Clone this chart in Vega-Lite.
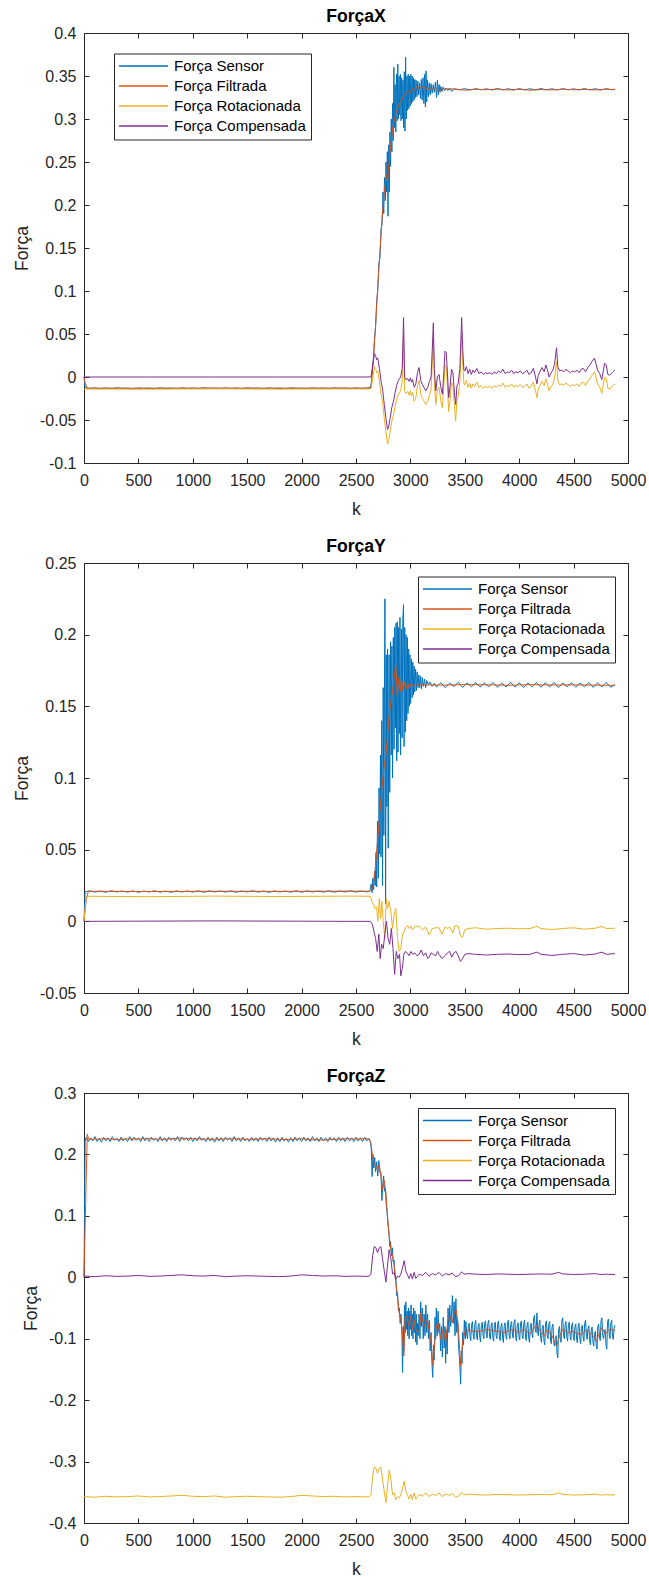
{
  "$schema": "https://vega.github.io/schema/vega-lite/v6.json",
  "background": "white",
  "padding": {"left": 13, "top": 7, "right": 10, "bottom": 4},
  "config": {
    "font": "Liberation Sans",
    "locale": {"number": {"decimal": ".", "thousands": ",", "grouping": [3], "currency": ["$", ""], "minus": "-"}},
    "view": {"stroke": "#262626", "strokeWidth": 1},
    "axis": {"domain": false, "grid": false, "ticks": true, "tickSize": -5, "tickWidth": 1, "tickColor": "#262626", "labelFont": "Liberation Sans", "labelFontSize": 16, "labelColor": "#262626", "labelOverlap": false, "labelFlush": false, "titleFont": "Liberation Sans", "titleFontSize": 17.6, "titleFontWeight": "normal", "titleColor": "#262626"},
    "title": {"font": "Liberation Sans", "fontSize": 17.6, "fontWeight": "bold", "color": "#000000"},
    "legend": {"symbolType": "M-12.25,0H12.25", "symbolSize": 16, "symbolStrokeWidth": 1.5, "symbolOffset": 17, "labelOffset": 23, "labelFont": "Liberation Sans", "labelFontSize": 15, "labelColor": "#000000", "padding": 5, "rowPadding": 4, "strokeColor": "#262626", "fillColor": "white", "labelLimit": 200}
  },
  "datasets": {
    "fx": [
      {"k":0,"S":0,"F":0,"R":-0.014,"C":0},
      {"k":10,"S":-0.0125},{"k":50,"S":-0.0132},{"k":100,"S":-0.0127},{"k":150,"S":-0.0134},{"k":200,"S":-0.0128},{"k":250,"S":-0.0133},{"k":300,"S":-0.0126},{"k":350,"S":-0.0131},{"k":400,"S":-0.0129},{"k":450,"S":-0.0135},{"k":500,"S":-0.0127},{"k":550,"S":-0.0132},{"k":600,"S":-0.0128},{"k":650,"S":-0.0134},{"k":700,"S":-0.0126},{"k":750,"S":-0.0131},{"k":800,"S":-0.0129},{"k":850,"S":-0.0133},{"k":900,"S":-0.0127},{"k":950,"S":-0.0132},{"k":1000,"S":-0.0128},{"k":1050,"S":-0.0134},{"k":1100,"S":-0.0126},{"k":1150,"S":-0.0131},{"k":1200,"S":-0.0129},{"k":1250,"S":-0.0133},{"k":1300,"S":-0.0127},{"k":1350,"S":-0.0132},{"k":1400,"S":-0.0128},{"k":1450,"S":-0.0135},{"k":1500,"S":-0.0126},{"k":1550,"S":-0.0131},{"k":1600,"S":-0.0129},{"k":1650,"S":-0.0133},{"k":1700,"S":-0.0127},{"k":1750,"S":-0.0132},{"k":1800,"S":-0.0128},{"k":1850,"S":-0.0134},{"k":1900,"S":-0.0126},{"k":1950,"S":-0.0131},{"k":2000,"S":-0.0129},{"k":2050,"S":-0.0133},{"k":2100,"S":-0.0127},{"k":2150,"S":-0.0132},{"k":2200,"S":-0.0128},{"k":2250,"S":-0.0134},{"k":2300,"S":-0.0126},{"k":2350,"S":-0.0131},{"k":2400,"S":-0.0129},{"k":2450,"S":-0.0133},{"k":2500,"S":-0.0127},{"k":2550,"S":-0.0132},{"k":2600,"S":-0.0128},
      {"k":2630,"S":-0.012},{"k":2640,"S":-0.008},{"k":2650,"S":0.008},{"k":2660,"S":0.022},{"k":2670,"S":0.045},{"k":2680,"S":0.058},{"k":2690,"S":0.088},{"k":2700,"S":0.1},{"k":2710,"S":0.132},{"k":2720,"S":0.138},{"k":2730,"S":0.172},{"k":2740,"S":0.178},{"k":2748,"S":0.215},{"k":2755,"S":0.19},{"k":2762,"S":0.232},{"k":2770,"S":0.205},{"k":2776,"S":0.25},{"k":2782,"S":0.215},{"k":2788,"S":0.262},{"k":2794,"S":0.187},{"k":2800,"S":0.27},{"k":2806,"S":0.215},{"k":2812,"S":0.285},{"k":2818,"S":0.245},{"k":2824,"S":0.3},{"k":2830,"S":0.262},{"k":2836,"S":0.318},{"k":2842,"S":0.275},{"k":2848,"S":0.36},{"k":2854,"S":0.29},{"k":2860,"S":0.34},{"k":2866,"S":0.285},{"k":2872,"S":0.352},{"k":2878,"S":0.298},{"k":2884,"S":0.364},{"k":2890,"S":0.3},{"k":2896,"S":0.35},{"k":2902,"S":0.305},{"k":2908,"S":0.352},{"k":2914,"S":0.298},{"k":2920,"S":0.348},{"k":2926,"S":0.3},{"k":2932,"S":0.345},{"k":2938,"S":0.29},{"k":2944,"S":0.355},{"k":2950,"S":0.286},{"k":2956,"S":0.372},{"k":2962,"S":0.3},{"k":2968,"S":0.35},{"k":2974,"S":0.31},{"k":2980,"S":0.352},{"k":2986,"S":0.312},{"k":2992,"S":0.35},{"k":2998,"S":0.315},{"k":3004,"S":0.352},{"k":3010,"S":0.318},{"k":3016,"S":0.35},{"k":3022,"S":0.32},{"k":3028,"S":0.348},{"k":3034,"S":0.322},{"k":3040,"S":0.346},{"k":3046,"S":0.325},{"k":3052,"S":0.345},{"k":3060,"S":0.326},{"k":3068,"S":0.344},{"k":3076,"S":0.328},{"k":3084,"S":0.342},{"k":3092,"S":0.324},{"k":3100,"S":0.346},{"k":3108,"S":0.322},{"k":3116,"S":0.348},{"k":3124,"S":0.318},{"k":3132,"S":0.352},{"k":3138,"S":0.314},{"k":3144,"S":0.356},{"k":3150,"S":0.32},{"k":3158,"S":0.345},{"k":3166,"S":0.326},{"k":3174,"S":0.342},{"k":3182,"S":0.328},{"k":3190,"S":0.341},{"k":3200,"S":0.33},{"k":3210,"S":0.34},{"k":3220,"S":0.331},{"k":3230,"S":0.343},{"k":3240,"S":0.325},{"k":3248,"S":0.345},{"k":3256,"S":0.328},{"k":3264,"S":0.34},{"k":3272,"S":0.331},{"k":3280,"S":0.338},{"k":3290,"S":0.332},{"k":3300,"S":0.337},{"k":3315,"S":0.333},{"k":3330,"S":0.336},{"k":3345,"S":0.333},{"k":3360,"S":0.336},{"k":3380,"S":0.332},{"k":3400,"S":0.335},
      {"k":3450,"S":0.334},{"k":3500,"S":0.3352},{"k":3550,"S":0.3338},{"k":3600,"S":0.3353},{"k":3650,"S":0.334},{"k":3700,"S":0.3351},{"k":3750,"S":0.3337},{"k":3800,"S":0.3354},{"k":3850,"S":0.3339},{"k":3900,"S":0.3352},{"k":3950,"S":0.3336},{"k":4000,"S":0.3353},{"k":4050,"S":0.334},{"k":4100,"S":0.3351},{"k":4150,"S":0.3338},{"k":4200,"S":0.3354},{"k":4250,"S":0.3339},{"k":4300,"S":0.3352},{"k":4350,"S":0.3337},{"k":4400,"S":0.3353},{"k":4450,"S":0.334},{"k":4500,"S":0.3351},{"k":4550,"S":0.3338},{"k":4600,"S":0.3354},{"k":4650,"S":0.3339},{"k":4700,"S":0.3352},{"k":4750,"S":0.3337},{"k":4800,"S":0.3353},{"k":4850,"S":0.334},{"k":4880,"S":0.3346},
      {"k":10,"F":-0.007},{"k":30,"F":-0.013},{"k":600,"F":-0.0131},{"k":1200,"F":-0.0129},{"k":1800,"F":-0.0131},{"k":2400,"F":-0.0129},{"k":2630,"F":-0.013},
      {"k":2640,"F":-0.01},{"k":2660,"F":0.02},{"k":2680,"F":0.06},{"k":2700,"F":0.105},{"k":2720,"F":0.145},{"k":2740,"F":0.185},{"k":2760,"F":0.215},{"k":2780,"F":0.235},{"k":2790,"F":0.228},{"k":2800,"F":0.245},{"k":2820,"F":0.27},{"k":2840,"F":0.292},{"k":2860,"F":0.303},{"k":2880,"F":0.312},{"k":2900,"F":0.318},{"k":2920,"F":0.322},{"k":2940,"F":0.327},{"k":2960,"F":0.33},{"k":2980,"F":0.333},{"k":3000,"F":0.33},{"k":3020,"F":0.336},{"k":3040,"F":0.333},{"k":3060,"F":0.338},{"k":3080,"F":0.335},{"k":3100,"F":0.337},{"k":3140,"F":0.336},{"k":3180,"F":0.334},{"k":3220,"F":0.336},{"k":3260,"F":0.332},{"k":3300,"F":0.335},
      {"k":3400,"F":0.335},{"k":3500,"F":0.3335},{"k":3600,"F":0.3345},{"k":3700,"F":0.334},{"k":3800,"F":0.3348},{"k":3900,"F":0.3338},{"k":4000,"F":0.3345},{"k":4100,"F":0.3335},{"k":4200,"F":0.3342},{"k":4300,"F":0.3338},{"k":4400,"F":0.3346},{"k":4500,"F":0.334},{"k":4600,"F":0.3344},{"k":4700,"F":0.3338},{"k":4800,"F":0.3345},{"k":4880,"F":0.3342},
      {"k":10,"R":-0.014,"C":0},{"k":600,"R":-0.0142,"C":0},{"k":1200,"R":-0.0138,"C":0},{"k":1800,"R":-0.0141,"C":0},{"k":2400,"R":-0.0139,"C":0},
      {"k":2630,"R":-0.014,"C":0},{"k":2640,"R":-0.013,"C":0.002},{"k":2655,"R":0,"C":0.015},{"k":2670,"R":0.012,"C":0.027},{"k":2680,"R":0.01,"C":0.025},{"k":2690,"R":0.005,"C":0.02},{"k":2700,"R":0.007,"C":0.022},{"k":2715,"R":-0.005,"C":0.01},{"k":2730,"R":-0.02,"C":-0.005},{"k":2745,"R":-0.03,"C":-0.015},{"k":2760,"R":-0.048,"C":-0.032},{"k":2775,"R":-0.064,"C":-0.048},{"k":2790,"R":-0.078,"C":-0.061},{"k":2800,"R":-0.074,"C":-0.058},{"k":2815,"R":-0.063,"C":-0.047},{"k":2830,"R":-0.051,"C":-0.035},{"k":2845,"R":-0.044,"C":-0.028},{"k":2860,"R":-0.034,"C":-0.018},{"k":2875,"R":-0.025,"C":-0.009},{"k":2890,"R":-0.02,"C":-0.004},{"k":2910,"R":-0.016,"C":0},{"k":2925,"R":-0.004,"C":0.01},{"k":2937,"R":0.05,"C":0.069},{"k":2947,"R":-0.016,"C":0},{"k":2958,"R":-0.019,"C":-0.003},{"k":2975,"R":-0.017,"C":-0.002},{"k":2988,"R":-0.021,"C":-0.005},{"k":3000,"R":-0.016,"C":-0.001},{"k":3010,"R":-0.022,"C":-0.006},{"k":3020,"R":-0.018,"C":-0.003},{"k":3035,"R":-0.028,"C":-0.012},{"k":3050,"R":-0.024,"C":-0.008},{"k":3065,"R":-0.01,"C":0.005},{"k":3080,"R":-0.004,"C":0.011},{"k":3095,"R":-0.02,"C":-0.004},{"k":3111,"R":-0.025,"C":-0.009},{"k":3125,"R":-0.028,"C":-0.012},{"k":3141,"R":-0.032,"C":-0.016},{"k":3160,"R":-0.028,"C":-0.012},{"k":3175,"R":-0.021,"C":-0.005},{"k":3190,"R":-0.015,"C":0},{"k":3202,"R":0.018,"C":0.035},{"k":3211,"R":0.045,"C":0.063},{"k":3220,"R":-0.006,"C":0.01},{"k":3233,"R":-0.032,"C":-0.016},{"k":3248,"R":-0.015,"C":0},{"k":3263,"R":-0.012,"C":0.003},{"k":3280,"R":-0.028,"C":-0.012},{"k":3294,"R":-0.036,"C":-0.02},{"k":3305,"R":-0.015,"C":0},{"k":3318,"R":0.014,"C":0.03},{"k":3330,"R":0.012,"C":0.028},{"k":3340,"R":-0.01,"C":0.005},{"k":3352,"R":-0.04,"C":-0.024},{"k":3365,"R":-0.026,"C":-0.01},{"k":3378,"R":-0.006,"C":0.009},{"k":3391,"R":-0.01,"C":0.005},{"k":3405,"R":-0.034,"C":-0.018},{"k":3416,"R":-0.051,"C":-0.032},{"k":3428,"R":-0.026,"C":-0.01},{"k":3440,"R":-0.022,"C":-0.007},{"k":3455,"R":-0.005,"C":0.01},{"k":3471,"R":0.05,"C":0.069},{"k":3482,"R":0.014,"C":0.03},{"k":3492,"R":-0.008,"C":0.008},{"k":3501,"R":-0.009,"C":0.007},{"k":3515,"R":-0.004,"C":0.012},{"k":3530,"R":-0.012,"C":0.004},{"k":3545,"R":-0.007,"C":0.009},{"k":3560,"R":-0.013,"C":0.003},{"k":3575,"R":-0.008,"C":0.008},{"k":3590,"R":-0.011,"C":0.005},{"k":3610,"R":-0.006,"C":0.01},{"k":3630,"R":-0.012,"C":0.004},{"k":3650,"R":-0.01,"C":0.006},{"k":3670,"R":-0.013,"C":0.003},{"k":3690,"R":-0.011,"C":0.005},{"k":3710,"R":-0.012,"C":0.004},{"k":3730,"R":-0.011,"C":0.005},{"k":3750,"R":-0.013,"C":0.003},{"k":3770,"R":-0.01,"C":0.006},{"k":3790,"R":-0.012,"C":0.004},{"k":3810,"R":-0.009,"C":0.007},{"k":3830,"R":-0.011,"C":0.005},{"k":3850,"R":-0.007,"C":0.009},{"k":3870,"R":-0.012,"C":0.004},{"k":3890,"R":-0.01,"C":0.006},{"k":3910,"R":-0.011,"C":0.005},{"k":3930,"R":-0.008,"C":0.008},{"k":3950,"R":-0.012,"C":0.004},{"k":3970,"R":-0.01,"C":0.006},{"k":3990,"R":-0.011,"C":0.005},{"k":4010,"R":-0.009,"C":0.007},{"k":4030,"R":-0.012,"C":0.004},{"k":4050,"R":-0.011,"C":0.005},{"k":4070,"R":-0.008,"C":0.008},{"k":4090,"R":-0.013,"C":0.003},{"k":4110,"R":-0.011,"C":0.005},{"k":4130,"R":-0.006,"C":0.01},{"k":4150,"R":-0.016,"C":0},{"k":4163,"R":-0.024,"C":-0.008},{"k":4175,"R":-0.014,"C":0.002},{"k":4190,"R":-0.01,"C":0.006},{"k":4210,"R":-0.005,"C":0.011},{"k":4230,"R":-0.01,"C":0.006},{"k":4245,"R":-0.002,"C":0.014},{"k":4260,"R":-0.008,"C":0.008},{"k":4275,"R":-0.016,"C":0},{"k":4290,"R":-0.012,"C":0.004},{"k":4310,"R":-0.008,"C":0.008},{"k":4325,"R":-0.001,"C":0.015},{"k":4343,"R":0.018,"C":0.034},{"k":4355,"R":-0.004,"C":0.012},{"k":4370,"R":-0.009,"C":0.007},{"k":4390,"R":-0.008,"C":0.008},{"k":4410,"R":-0.01,"C":0.006},{"k":4430,"R":-0.007,"C":0.009},{"k":4450,"R":-0.009,"C":0.007},{"k":4470,"R":-0.011,"C":0.005},{"k":4490,"R":-0.009,"C":0.007},{"k":4510,"R":-0.01,"C":0.006},{"k":4530,"R":-0.008,"C":0.008},{"k":4550,"R":-0.011,"C":0.005},{"k":4570,"R":-0.007,"C":0.009},{"k":4590,"R":-0.006,"C":0.01},{"k":4610,"R":-0.01,"C":0.006},{"k":4630,"R":-0.005,"C":0.011},{"k":4650,"R":-0.002,"C":0.014},{"k":4670,"R":0.002,"C":0.018},{"k":4692,"R":0.006,"C":0.022},{"k":4705,"R":0,"C":0.016},{"k":4720,"R":-0.008,"C":0.008},{"k":4740,"R":-0.012,"C":0.004},{"k":4759,"R":-0.019,"C":-0.003},{"k":4770,"R":-0.011,"C":0.005},{"k":4785,"R":0,"C":0.016},{"k":4800,"R":-0.002,"C":0.014},{"k":4815,"R":-0.013,"C":0.003},{"k":4830,"R":-0.014,"C":0.002},{"k":4845,"R":-0.012,"C":0.004},{"k":4860,"R":-0.01,"C":0.006},{"k":4880,"R":-0.008,"C":0.008}
    ],
    "fy": [
      {"k":0,"S":0,"F":0,"R":0,"C":0},
      {"k":10,"S":0.0205},{"k":50,"S":0.0212},{"k":100,"S":0.0204},{"k":150,"S":0.0211},{"k":200,"S":0.0203},{"k":250,"S":0.0213},{"k":300,"S":0.0205},{"k":350,"S":0.0211},{"k":400,"S":0.0204},{"k":450,"S":0.0212},{"k":500,"S":0.0203},{"k":550,"S":0.0211},{"k":600,"S":0.0205},{"k":650,"S":0.0213},{"k":700,"S":0.0204},{"k":750,"S":0.0211},{"k":800,"S":0.0203},{"k":850,"S":0.0212},{"k":900,"S":0.0205},{"k":950,"S":0.0211},{"k":1000,"S":0.0204},{"k":1050,"S":0.0213},{"k":1100,"S":0.0203},{"k":1150,"S":0.0212},{"k":1200,"S":0.0205},{"k":1250,"S":0.0211},{"k":1300,"S":0.0204},{"k":1350,"S":0.0212},{"k":1400,"S":0.0203},{"k":1450,"S":0.0211},{"k":1500,"S":0.0205},{"k":1550,"S":0.0213},{"k":1600,"S":0.0204},{"k":1650,"S":0.0211},{"k":1700,"S":0.0203},{"k":1750,"S":0.0212},{"k":1800,"S":0.0205},{"k":1850,"S":0.0211},{"k":1900,"S":0.0204},{"k":1950,"S":0.0213},{"k":2000,"S":0.0203},{"k":2050,"S":0.0212},{"k":2100,"S":0.0205},{"k":2150,"S":0.0211},{"k":2200,"S":0.0204},{"k":2250,"S":0.0212},{"k":2300,"S":0.0203},{"k":2350,"S":0.0211},{"k":2400,"S":0.0205},{"k":2450,"S":0.0213},{"k":2500,"S":0.0204},{"k":2550,"S":0.0211},{"k":2600,"S":0.0205},
      {"k":2620,"S":0.021},{"k":2630,"S":0.022},{"k":2640,"S":0.026},{"k":2648,"S":0.02},{"k":2655,"S":0.03},{"k":2662,"S":0.022},{"k":2670,"S":0.035},{"k":2677,"S":0.025},{"k":2684,"S":0.048},{"k":2690,"S":0.024},{"k":2698,"S":0.07},{"k":2705,"S":0.03},{"k":2712,"S":0.093},{"k":2718,"S":0.047},{"k":2725,"S":0.116},{"k":2730,"S":0.045},{"k":2737,"S":0.14},{"k":2744,"S":0.025},{"k":2750,"S":0.163},{"k":2756,"S":0.06},{"k":2762,"S":0.17},{"k":2766,"S":0.225},{"k":2772,"S":0.012},{"k":2778,"S":0.186},{"k":2784,"S":0.08},{"k":2790,"S":0.19},{"k":2796,"S":0.051},{"k":2804,"S":0.186},{"k":2810,"S":0.09},{"k":2818,"S":0.195},{"k":2824,"S":0.116},{"k":2830,"S":0.192},{"k":2836,"S":0.1},{"k":2843,"S":0.198},{"k":2850,"S":0.12},{"k":2856,"S":0.205},{"k":2862,"S":0.135},{"k":2868,"S":0.208},{"k":2874,"S":0.112},{"k":2880,"S":0.209},{"k":2886,"S":0.118},{"k":2892,"S":0.205},{"k":2898,"S":0.131},{"k":2904,"S":0.212},{"k":2910,"S":0.116},{"k":2918,"S":0.204},{"k":2924,"S":0.128},{"k":2930,"S":0.21},{"k":2937,"S":0.221},{"k":2942,"S":0.122},{"k":2948,"S":0.205},{"k":2954,"S":0.132},{"k":2960,"S":0.2},{"k":2966,"S":0.14},{"k":2972,"S":0.198},{"k":2978,"S":0.145},{"k":2984,"S":0.19},{"k":2990,"S":0.15},{"k":2996,"S":0.186},{"k":3002,"S":0.152},{"k":3010,"S":0.183},{"k":3016,"S":0.156},{"k":3022,"S":0.181},{"k":3028,"S":0.158},{"k":3034,"S":0.178},{"k":3040,"S":0.16},{"k":3048,"S":0.176},{"k":3055,"S":0.161},{"k":3062,"S":0.174},{"k":3070,"S":0.163},{"k":3078,"S":0.172},{"k":3086,"S":0.163},{"k":3094,"S":0.171},{"k":3102,"S":0.162},{"k":3110,"S":0.17},{"k":3120,"S":0.164},{"k":3130,"S":0.169},{"k":3140,"S":0.163},{"k":3150,"S":0.168},{"k":3165,"S":0.165},{"k":3180,"S":0.167},{"k":3200,"S":0.164},{"k":3220,"S":0.166},
      {"k":3240,"S":0.1635},{"k":3280,"S":0.1665},{"k":3320,"S":0.163},{"k":3360,"S":0.1662},{"k":3400,"S":0.1638},{"k":3440,"S":0.1668},{"k":3480,"S":0.1632},{"k":3520,"S":0.1664},{"k":3560,"S":0.1636},{"k":3600,"S":0.1666},{"k":3640,"S":0.1634},{"k":3680,"S":0.1663},{"k":3720,"S":0.1637},{"k":3760,"S":0.1667},{"k":3800,"S":0.1633},{"k":3840,"S":0.1662},{"k":3880,"S":0.1635},{"k":3920,"S":0.1668},{"k":3960,"S":0.1634},{"k":4000,"S":0.1665},{"k":4040,"S":0.1632},{"k":4080,"S":0.1663},{"k":4120,"S":0.1636},{"k":4160,"S":0.1666},{"k":4200,"S":0.1633},{"k":4240,"S":0.1664},{"k":4280,"S":0.1635},{"k":4320,"S":0.1667},{"k":4360,"S":0.1631},{"k":4400,"S":0.1663},{"k":4440,"S":0.1636},{"k":4480,"S":0.1665},{"k":4520,"S":0.1633},{"k":4560,"S":0.1662},{"k":4600,"S":0.1637},{"k":4640,"S":0.1666},{"k":4680,"S":0.1632},{"k":4720,"S":0.1664},{"k":4760,"S":0.1635},{"k":4800,"S":0.1667},{"k":4840,"S":0.1633},{"k":4880,"S":0.1652},
      {"k":20,"F":0.015},{"k":40,"F":0.021},{"k":600,"F":0.0208},{"k":1200,"F":0.021},{"k":1800,"F":0.0209},{"k":2400,"F":0.0211},
      {"k":2630,"F":0.021},{"k":2645,"F":0.022},{"k":2660,"F":0.026},{"k":2675,"F":0.035},{"k":2690,"F":0.049},{"k":2705,"F":0.062},{"k":2720,"F":0.077},{"k":2735,"F":0.09},{"k":2750,"F":0.102},{"k":2765,"F":0.112},{"k":2775,"F":0.116},{"k":2790,"F":0.13},{"k":2805,"F":0.144},{"k":2820,"F":0.153},{"k":2835,"F":0.16},{"k":2850,"F":0.17},{"k":2866,"F":0.179},{"k":2878,"F":0.158},{"k":2892,"F":0.17},{"k":2905,"F":0.16},{"k":2918,"F":0.169},{"k":2932,"F":0.161},{"k":2946,"F":0.167},{"k":2960,"F":0.162},{"k":2975,"F":0.166},{"k":2990,"F":0.163},{"k":3010,"F":0.166},{"k":3030,"F":0.164},{"k":3060,"F":0.165},
      {"k":3100,"F":0.165},{"k":3300,"F":0.1648},{"k":3500,"F":0.1652},{"k":3700,"F":0.165},{"k":3900,"F":0.1647},{"k":4100,"F":0.1651},{"k":4300,"F":0.1649},{"k":4500,"F":0.165},{"k":4700,"F":0.1648},{"k":4880,"F":0.1646},
      {"k":20,"R":0.0175,"C":0},{"k":600,"R":0.0172},{"k":1200,"R":0.0176,"C":0.0003},{"k":1800,"R":0.0173},{"k":2400,"R":0.0176,"C":0},
      {"k":2630,"R":0.0175},{"k":2645,"R":0.014},{"k":2660,"R":0.012},{"k":2675,"R":0.009},{"k":2690,"R":0.01},{"k":2700,"R":0},{"k":2714,"R":0.016},{"k":2726,"R":0.002},{"k":2738,"R":0.014},{"k":2750,"R":0},{"k":2765,"R":-0.012},{"k":2778,"R":0.016},{"k":2790,"R":0.009},{"k":2805,"R":0.014},{"k":2820,"R":0.007},{"k":2836,"R":-0.005},{"k":2851,"R":0.005},{"k":2866,"R":0.009},{"k":2882,"R":-0.012},{"k":2897,"R":-0.021},{"k":2912,"R":-0.019},{"k":2927,"R":-0.009},{"k":2943,"R":-0.007},{"k":2958,"R":-0.004},{"k":2975,"R":-0.003},{"k":2990,"R":-0.005},{"k":3005,"R":-0.0035},{"k":3020,"R":-0.006},{"k":3035,"R":-0.004},{"k":3050,"R":-0.0035},{"k":3080,"R":-0.0035},{"k":3111,"R":-0.006},{"k":3141,"R":-0.004},{"k":3172,"R":-0.0095},{"k":3200,"R":-0.005},{"k":3233,"R":-0.0045},{"k":3263,"R":-0.0045},{"k":3290,"R":-0.009},{"k":3318,"R":-0.004},{"k":3340,"R":-0.005},{"k":3361,"R":-0.004},{"k":3391,"R":-0.008},{"k":3410,"R":-0.003},{"k":3440,"R":-0.0035},{"k":3460,"R":-0.01},{"k":3480,"R":-0.011},{"k":3500,"R":-0.006},
      {"k":3530,"R":-0.005,"C":-0.0225},{"k":3600,"R":-0.0045,"C":-0.023},{"k":3700,"R":-0.0055,"C":-0.0235},{"k":3800,"R":-0.005,"C":-0.023},{"k":3900,"R":-0.0048,"C":-0.0228},{"k":4000,"R":-0.0052,"C":-0.0232},{"k":4100,"R":-0.005,"C":-0.023},{"k":4163,"R":-0.0035,"C":-0.0215},{"k":4200,"R":-0.005,"C":-0.023},{"k":4300,"R":-0.0058,"C":-0.0238},{"k":4400,"R":-0.005,"C":-0.023},{"k":4500,"R":-0.0045,"C":-0.0225},{"k":4600,"R":-0.0055,"C":-0.0235},{"k":4700,"R":-0.0048,"C":-0.0228},{"k":4760,"R":-0.0035,"C":-0.0215},{"k":4800,"R":-0.005,"C":-0.023},{"k":4880,"R":-0.0048,"C":-0.0225},
      {"k":2630,"C":0},{"k":2650,"C":-0.002},{"k":2665,"C":-0.007},{"k":2680,"C":-0.012},{"k":2695,"C":-0.021},{"k":2710,"C":-0.009},{"k":2722,"C":-0.026},{"k":2735,"C":-0.016},{"k":2750,"C":-0.019},{"k":2765,"C":-0.009},{"k":2780,"C":0},{"k":2795,"C":-0.012},{"k":2810,"C":-0.016},{"k":2825,"C":-0.005},{"k":2840,"C":-0.019},{"k":2855,"C":-0.037},{"k":2870,"C":-0.021},{"k":2885,"C":-0.026},{"k":2900,"C":-0.023},{"k":2912,"C":-0.038},{"k":2925,"C":-0.033},{"k":2940,"C":-0.023},{"k":2955,"C":-0.021},{"k":2970,"C":-0.022},{"k":2988,"C":-0.024},{"k":3005,"C":-0.021},{"k":3020,"C":-0.023},{"k":3040,"C":-0.022},{"k":3060,"C":-0.024},{"k":3080,"C":-0.023},{"k":3100,"C":-0.02},{"k":3120,"C":-0.024},{"k":3141,"C":-0.022},{"k":3160,"C":-0.026},{"k":3172,"C":-0.025},{"k":3190,"C":-0.022},{"k":3210,"C":-0.023},{"k":3233,"C":-0.024},{"k":3250,"C":-0.021},{"k":3263,"C":-0.023},{"k":3290,"C":-0.026},{"k":3318,"C":-0.024},{"k":3340,"C":-0.022},{"k":3361,"C":-0.021},{"k":3380,"C":-0.025},{"k":3400,"C":-0.022},{"k":3420,"C":-0.021},{"k":3440,"C":-0.024},{"k":3460,"C":-0.028},{"k":3480,"C":-0.026},{"k":3500,"C":-0.023}
    ],
    "fz": [
      {"k":0,"S":0,"F":0,"R":-0.357,"C":0.002},
      {"k":10,"S":0.222},{"k":20,"S":0.228},{"k":40,"S":0.221},{"k":60,"S":0.227},{"k":80,"S":0.222},{"k":100,"S":0.229},{"k":120,"S":0.221},{"k":140,"S":0.226},{"k":160,"S":0.22},{"k":180,"S":0.228},{"k":200,"S":0.222},{"k":220,"S":0.227},{"k":240,"S":0.221},{"k":260,"S":0.229},{"k":280,"S":0.223},{"k":300,"S":0.227},{"k":320,"S":0.221},{"k":340,"S":0.228},{"k":360,"S":0.222},{"k":380,"S":0.226},{"k":400,"S":0.221},{"k":420,"S":0.229},{"k":440,"S":0.222},{"k":460,"S":0.228},{"k":480,"S":0.223},{"k":500,"S":0.227},{"k":520,"S":0.221},{"k":540,"S":0.229},{"k":560,"S":0.222},{"k":580,"S":0.227},{"k":600,"S":0.221},{"k":620,"S":0.228},{"k":640,"S":0.223},{"k":660,"S":0.226},{"k":680,"S":0.221},{"k":700,"S":0.229},{"k":720,"S":0.222},{"k":740,"S":0.227},{"k":760,"S":0.221},{"k":780,"S":0.228},{"k":800,"S":0.223},{"k":820,"S":0.227},{"k":840,"S":0.222},{"k":860,"S":0.229},{"k":880,"S":0.221},{"k":900,"S":0.228},{"k":920,"S":0.223},{"k":940,"S":0.227},{"k":960,"S":0.222},{"k":980,"S":0.228},{"k":1000,"S":0.221},{"k":1020,"S":0.227},{"k":1040,"S":0.222},{"k":1060,"S":0.229},{"k":1080,"S":0.223},{"k":1100,"S":0.226},{"k":1120,"S":0.221},{"k":1140,"S":0.228},{"k":1160,"S":0.222},{"k":1180,"S":0.227},{"k":1200,"S":0.22},{"k":1220,"S":0.228},{"k":1240,"S":0.222},{"k":1260,"S":0.227},{"k":1280,"S":0.221},{"k":1300,"S":0.228},{"k":1320,"S":0.223},{"k":1340,"S":0.227},{"k":1360,"S":0.221},{"k":1380,"S":0.229},{"k":1400,"S":0.222},{"k":1420,"S":0.227},{"k":1440,"S":0.221},{"k":1460,"S":0.228},{"k":1480,"S":0.222},{"k":1500,"S":0.226},{"k":1520,"S":0.221},{"k":1540,"S":0.228},{"k":1560,"S":0.222},{"k":1580,"S":0.227},{"k":1600,"S":0.221},{"k":1620,"S":0.228},{"k":1640,"S":0.223},{"k":1660,"S":0.227},{"k":1680,"S":0.221},{"k":1700,"S":0.228},{"k":1720,"S":0.222},{"k":1740,"S":0.227},{"k":1760,"S":0.22},{"k":1780,"S":0.227},{"k":1800,"S":0.221},{"k":1820,"S":0.228},{"k":1840,"S":0.222},{"k":1860,"S":0.226},{"k":1880,"S":0.22},{"k":1900,"S":0.227},{"k":1920,"S":0.221},{"k":1940,"S":0.228},{"k":1960,"S":0.222},{"k":1980,"S":0.227},{"k":2000,"S":0.221},{"k":2020,"S":0.228},{"k":2040,"S":0.222},{"k":2060,"S":0.227},{"k":2080,"S":0.221},{"k":2100,"S":0.229},{"k":2120,"S":0.222},{"k":2140,"S":0.227},{"k":2160,"S":0.221},{"k":2180,"S":0.228},{"k":2200,"S":0.222},{"k":2220,"S":0.227},{"k":2240,"S":0.221},{"k":2260,"S":0.228},{"k":2280,"S":0.223},{"k":2300,"S":0.227},{"k":2320,"S":0.221},{"k":2340,"S":0.228},{"k":2360,"S":0.222},{"k":2380,"S":0.227},{"k":2400,"S":0.221},{"k":2420,"S":0.228},{"k":2440,"S":0.222},{"k":2460,"S":0.227},{"k":2480,"S":0.221},{"k":2500,"S":0.228},{"k":2520,"S":0.222},{"k":2540,"S":0.227},{"k":2560,"S":0.221},{"k":2580,"S":0.228},{"k":2600,"S":0.222},{"k":2620,"S":0.226},
      {"k":2630,"S":0.222},{"k":2640,"S":0.21},{"k":2648,"S":0.164},{"k":2656,"S":0.2},{"k":2664,"S":0.178},{"k":2672,"S":0.195},{"k":2680,"S":0.172},{"k":2690,"S":0.188},{"k":2700,"S":0.165},{"k":2710,"S":0.19},{"k":2720,"S":0.17},{"k":2730,"S":0.17},{"k":2738,"S":0.125},{"k":2746,"S":0.15},{"k":2754,"S":0.165},{"k":2762,"S":0.14},{"k":2770,"S":0.145},{"k":2778,"S":0.118},{"k":2786,"S":0.105},{"k":2794,"S":0.085},{"k":2802,"S":0.075},{"k":2810,"S":0.05},{"k":2818,"S":0.058},{"k":2826,"S":0.035},{"k":2834,"S":0.048},{"k":2842,"S":0.025},{"k":2850,"S":0.028},{"k":2858,"S":0.005},{"k":2866,"S":0},{"k":2874,"S":-0.03},{"k":2882,"S":-0.025},{"k":2890,"S":-0.055},{"k":2898,"S":-0.05},{"k":2906,"S":-0.075},{"k":2914,"S":-0.06},{"k":2922,"S":-0.095},{"k":2928,"S":-0.155},{"k":2934,"S":-0.08},{"k":2940,"S":-0.12},{"k":2946,"S":-0.045},{"k":2952,"S":-0.09},{"k":2958,"S":-0.04},{"k":2964,"S":-0.085},{"k":2970,"S":-0.055},{"k":2976,"S":-0.095},{"k":2982,"S":-0.05},{"k":2988,"S":-0.1},{"k":2994,"S":-0.055},{"k":3000,"S":-0.085},{"k":3006,"S":-0.045},{"k":3012,"S":-0.095},{"k":3018,"S":-0.06},{"k":3024,"S":-0.1},{"k":3030,"S":-0.05},{"k":3036,"S":-0.09},{"k":3042,"S":-0.055},{"k":3048,"S":-0.105},{"k":3054,"S":-0.06},{"k":3060,"S":-0.11},{"k":3066,"S":-0.075},{"k":3072,"S":-0.095},{"k":3080,"S":-0.06},{"k":3088,"S":-0.1},{"k":3095,"S":-0.04},{"k":3102,"S":-0.08},{"k":3110,"S":-0.05},{"k":3118,"S":-0.1},{"k":3126,"S":-0.06},{"k":3134,"S":-0.095},{"k":3142,"S":-0.045},{"k":3150,"S":-0.09},{"k":3158,"S":-0.06},{"k":3166,"S":-0.1},{"k":3174,"S":-0.07},{"k":3182,"S":-0.12},{"k":3190,"S":-0.09},{"k":3198,"S":-0.14},{"k":3205,"S":-0.163},{"k":3212,"S":-0.11},{"k":3218,"S":-0.135},{"k":3226,"S":-0.065},{"k":3232,"S":-0.1},{"k":3238,"S":-0.05},{"k":3246,"S":-0.095},{"k":3254,"S":-0.055},{"k":3262,"S":-0.09},{"k":3270,"S":-0.075},{"k":3278,"S":-0.12},{"k":3286,"S":-0.08},{"k":3294,"S":-0.13},{"k":3302,"S":-0.065},{"k":3310,"S":-0.115},{"k":3318,"S":-0.08},{"k":3324,"S":-0.14},{"k":3330,"S":-0.085},{"k":3338,"S":-0.125},{"k":3346,"S":-0.05},{"k":3354,"S":-0.09},{"k":3362,"S":-0.045},{"k":3370,"S":-0.08},{"k":3378,"S":-0.06},{"k":3386,"S":-0.03},{"k":3394,"S":-0.075},{"k":3402,"S":-0.04},{"k":3410,"S":-0.095},{"k":3418,"S":-0.035},{"k":3426,"S":-0.09},{"k":3434,"S":-0.07},{"k":3442,"S":-0.11},{"k":3450,"S":-0.13},{"k":3456,"S":-0.15},{"k":3462,"S":-0.174},{"k":3468,"S":-0.12},{"k":3474,"S":-0.14},{"k":3480,"S":-0.09},{"k":3488,"S":-0.11},{"k":3496,"S":-0.07},{"k":3504,"S":-0.1},
      {"k":3510,"S":-0.072},{"k":3518,"S":-0.094},{"k":3525,"S":-0.1},{"k":3532,"S":-0.08},{"k":3540,"S":-0.075},{"k":3548,"S":-0.097},{"k":3555,"S":-0.103},{"k":3562,"S":-0.078},{"k":3570,"S":-0.072},{"k":3578,"S":-0.096},{"k":3585,"S":-0.101},{"k":3592,"S":-0.077},{"k":3600,"S":-0.07},{"k":3608,"S":-0.095},{"k":3615,"S":-0.102},{"k":3622,"S":-0.08},{"k":3630,"S":-0.075},{"k":3638,"S":-0.099},{"k":3645,"S":-0.105},{"k":3652,"S":-0.079},{"k":3660,"S":-0.073},{"k":3668,"S":-0.094},{"k":3675,"S":-0.1},{"k":3682,"S":-0.076},{"k":3690,"S":-0.071},{"k":3698,"S":-0.093},{"k":3705,"S":-0.099},{"k":3712,"S":-0.075},{"k":3720,"S":-0.07},{"k":3728,"S":-0.096},{"k":3735,"S":-0.101},{"k":3742,"S":-0.079},{"k":3750,"S":-0.074},{"k":3758,"S":-0.098},{"k":3765,"S":-0.104},{"k":3772,"S":-0.078},{"k":3780,"S":-0.073},{"k":3788,"S":-0.095},{"k":3795,"S":-0.1},{"k":3802,"S":-0.076},{"k":3810,"S":-0.071},{"k":3818,"S":-0.097},{"k":3825,"S":-0.103},{"k":3832,"S":-0.08},{"k":3840,"S":-0.075},{"k":3848,"S":-0.1},{"k":3855,"S":-0.106},{"k":3862,"S":-0.079},{"k":3870,"S":-0.074},{"k":3878,"S":-0.096},{"k":3885,"S":-0.101},{"k":3892,"S":-0.076},{"k":3900,"S":-0.07},{"k":3908,"S":-0.094},{"k":3915,"S":-0.1},{"k":3922,"S":-0.077},{"k":3930,"S":-0.072},{"k":3938,"S":-0.094},{"k":3945,"S":-0.099},{"k":3952,"S":-0.074},{"k":3960,"S":-0.069},{"k":3968,"S":-0.098},{"k":3975,"S":-0.104},{"k":3982,"S":-0.079},{"k":3990,"S":-0.074},{"k":3998,"S":-0.097},{"k":4005,"S":-0.102},{"k":4012,"S":-0.076},{"k":4020,"S":-0.071},{"k":4028,"S":-0.095},{"k":4035,"S":-0.1},{"k":4042,"S":-0.075},{"k":4050,"S":-0.07},{"k":4058,"S":-0.097},{"k":4065,"S":-0.103},{"k":4072,"S":-0.078},{"k":4080,"S":-0.073},{"k":4088,"S":-0.1},{"k":4095,"S":-0.106},{"k":4102,"S":-0.08},{"k":4110,"S":-0.075},{"k":4118,"S":-0.093},{"k":4125,"S":-0.098},{"k":4132,"S":-0.068},{"k":4140,"S":-0.062},{"k":4148,"S":-0.085},{"k":4155,"S":-0.09},{"k":4163,"S":-0.058},{"k":4170,"S":-0.088},{"k":4175,"S":-0.095},{"k":4183,"S":-0.075},{"k":4190,"S":-0.07},{"k":4198,"S":-0.1},{"k":4205,"S":-0.106},{"k":4212,"S":-0.083},{"k":4220,"S":-0.078},{"k":4228,"S":-0.104},{"k":4235,"S":-0.11},{"k":4242,"S":-0.076},{"k":4250,"S":-0.071},{"k":4258,"S":-0.095},{"k":4265,"S":-0.1},{"k":4272,"S":-0.077},{"k":4280,"S":-0.072},{"k":4288,"S":-0.102},{"k":4295,"S":-0.108},{"k":4302,"S":-0.081},{"k":4310,"S":-0.076},{"k":4318,"S":-0.106},{"k":4325,"S":-0.112},{"k":4332,"S":-0.1},{"k":4340,"S":-0.095},{"k":4348,"S":-0.125},{"k":4355,"S":-0.131},{"k":4362,"S":-0.086},{"k":4370,"S":-0.08},{"k":4378,"S":-0.1},{"k":4385,"S":-0.106},{"k":4392,"S":-0.071},{"k":4400,"S":-0.066},{"k":4408,"S":-0.095},{"k":4415,"S":-0.1},{"k":4422,"S":-0.077},{"k":4430,"S":-0.072},{"k":4438,"S":-0.098},{"k":4445,"S":-0.104},{"k":4452,"S":-0.078},{"k":4460,"S":-0.073},{"k":4468,"S":-0.096},{"k":4475,"S":-0.102},{"k":4482,"S":-0.079},{"k":4490,"S":-0.074},{"k":4498,"S":-0.098},{"k":4505,"S":-0.103},{"k":4512,"S":-0.081},{"k":4520,"S":-0.076},{"k":4528,"S":-0.101},{"k":4535,"S":-0.107},{"k":4542,"S":-0.08},{"k":4550,"S":-0.075},{"k":4558,"S":-0.102},{"k":4565,"S":-0.108},{"k":4572,"S":-0.083},{"k":4580,"S":-0.078},{"k":4588,"S":-0.099},{"k":4595,"S":-0.104},{"k":4602,"S":-0.075},{"k":4610,"S":-0.07},{"k":4618,"S":-0.096},{"k":4625,"S":-0.101},{"k":4632,"S":-0.084},{"k":4640,"S":-0.079},{"k":4648,"S":-0.104},{"k":4655,"S":-0.11},{"k":4662,"S":-0.086},{"k":4670,"S":-0.081},{"k":4678,"S":-0.106},{"k":4685,"S":-0.112},{"k":4692,"S":-0.093},{"k":4700,"S":-0.088},{"k":4708,"S":-0.111},{"k":4715,"S":-0.117},{"k":4722,"S":-0.081},{"k":4730,"S":-0.076},{"k":4738,"S":-0.098},{"k":4745,"S":-0.103},{"k":4752,"S":-0.071},{"k":4760,"S":-0.066},{"k":4768,"S":-0.095},{"k":4775,"S":-0.1},{"k":4782,"S":-0.09},{"k":4790,"S":-0.085},{"k":4798,"S":-0.111},{"k":4805,"S":-0.117},{"k":4812,"S":-0.073},{"k":4820,"S":-0.068},{"k":4828,"S":-0.095},{"k":4835,"S":-0.1},{"k":4842,"S":-0.075},{"k":4850,"S":-0.07},{"k":4858,"S":-0.096},{"k":4865,"S":-0.101},{"k":4872,"S":-0.083},{"k":4880,"S":-0.078},
      {"k":15,"F":0.12},{"k":30,"F":0.233},{"k":45,"F":0.224},{"k":100,"F":0.225},{"k":200,"F":0.2255},{"k":300,"F":0.224},{"k":400,"F":0.2255},{"k":500,"F":0.225},{"k":600,"F":0.226},{"k":700,"F":0.2245},{"k":800,"F":0.2255},{"k":900,"F":0.2265},{"k":1000,"F":0.2255},{"k":1100,"F":0.225},{"k":1200,"F":0.2245},{"k":1300,"F":0.2255},{"k":1400,"F":0.2255},{"k":1500,"F":0.2245},{"k":1600,"F":0.225},{"k":1700,"F":0.2255},{"k":1800,"F":0.2245},{"k":1900,"F":0.2245},{"k":2000,"F":0.2255},{"k":2100,"F":0.224},{"k":2200,"F":0.2235},{"k":2300,"F":0.2245},{"k":2400,"F":0.2255},{"k":2500,"F":0.225},{"k":2600,"F":0.2255},{"k":2620,"F":0.225},
      {"k":2637,"F":0.219},{"k":2653,"F":0.196},{"k":2668,"F":0.185},{"k":2683,"F":0.18},{"k":2698,"F":0.175},{"k":2714,"F":0.183},{"k":2729,"F":0.164},{"k":2744,"F":0.142},{"k":2760,"F":0.158},{"k":2775,"F":0.137},{"k":2790,"F":0.099},{"k":2805,"F":0.066},{"k":2821,"F":0.045},{"k":2836,"F":0.034},{"k":2851,"F":0.018},{"k":2866,"F":-0.009},{"k":2882,"F":-0.031},{"k":2897,"F":-0.058},{"k":2912,"F":-0.069},{"k":2927,"F":-0.09},{"k":2940,"F":-0.128},{"k":2950,"F":-0.07},{"k":2958,"F":-0.063},{"k":2973,"F":-0.069},{"k":2988,"F":-0.08},{"k":3004,"F":-0.063},{"k":3019,"F":-0.085},{"k":3034,"F":-0.069},{"k":3050,"F":-0.085},{"k":3080,"F":-0.09},{"k":3095,"F":-0.058},{"k":3125,"F":-0.08},{"k":3156,"F":-0.069},{"k":3187,"F":-0.101},{"k":3208,"F":-0.144},{"k":3233,"F":-0.085},{"k":3254,"F":-0.074},{"k":3278,"F":-0.101},{"k":3300,"F":-0.085},{"k":3324,"F":-0.106},{"k":3345,"F":-0.069},{"k":3370,"F":-0.063},{"k":3385,"F":-0.074},{"k":3401,"F":-0.058},{"k":3422,"F":-0.053},{"k":3440,"F":-0.08},{"k":3462,"F":-0.144},{"k":3483,"F":-0.101},{"k":3508,"F":-0.085},{"k":3570,"F":-0.088},{"k":3630,"F":-0.088},{"k":3710,"F":-0.085},{"k":3800,"F":-0.088},{"k":3860,"F":-0.09},{"k":3950,"F":-0.085},{"k":3990,"F":-0.09},{"k":4050,"F":-0.085},{"k":4100,"F":-0.092},{"k":4163,"F":-0.077},{"k":4200,"F":-0.09},{"k":4230,"F":-0.095},{"k":4260,"F":-0.085},{"k":4300,"F":-0.095},{"k":4343,"F":-0.112},{"k":4370,"F":-0.096},{"k":4400,"F":-0.085},{"k":4450,"F":-0.09},{"k":4500,"F":-0.088},{"k":4530,"F":-0.092},{"k":4570,"F":-0.093},{"k":4620,"F":-0.086},{"k":4680,"F":-0.095},{"k":4710,"F":-0.104},{"k":4740,"F":-0.09},{"k":4759,"F":-0.082},{"k":4790,"F":-0.092},{"k":4830,"F":-0.085},{"k":4880,"F":-0.086},
      {"k":100,"C":0.001,"R":-0.358},{"k":200,"C":0.0025,"R":-0.3565},{"k":300,"C":0.0015,"R":-0.3575},{"k":400,"C":0.002,"R":-0.357},{"k":500,"C":0.003,"R":-0.356},{"k":600,"C":0.0015,"R":-0.3575},{"k":700,"C":0.002,"R":-0.357},{"k":800,"C":0.003,"R":-0.356},{"k":900,"C":0.004,"R":-0.355},{"k":1000,"C":0.0025,"R":-0.3565},{"k":1100,"C":0.002,"R":-0.357},{"k":1200,"C":0.003,"R":-0.356},{"k":1300,"C":0.001,"R":-0.358},{"k":1400,"C":0.002,"R":-0.357},{"k":1500,"C":0.0025,"R":-0.3565},{"k":1600,"C":0.002,"R":-0.357},{"k":1700,"C":0.0015,"R":-0.3575},{"k":1800,"C":0.001,"R":-0.358},{"k":1900,"C":0.002,"R":-0.357},{"k":2000,"C":0.004,"R":-0.355},{"k":2100,"C":0.003,"R":-0.356},{"k":2200,"C":0.002,"R":-0.357},{"k":2300,"C":0.0025,"R":-0.3565},{"k":2400,"C":0.0015,"R":-0.3575},{"k":2500,"C":0.002,"R":-0.357},{"k":2600,"C":0.0015,"R":-0.3575},{"k":2622,"C":0.002,"R":-0.357},
      {"k":2637,"C":0.005,"R":-0.354},{"k":2653,"C":0.035,"R":-0.324},{"k":2668,"C":0.05,"R":-0.309},{"k":2683,"C":0.048,"R":-0.311},{"k":2698,"C":0.04,"R":-0.319},{"k":2714,"C":0.048,"R":-0.311},{"k":2729,"C":0.05,"R":-0.309},{"k":2744,"C":0.03,"R":-0.329},{"k":2760,"C":0.01,"R":-0.349},{"k":2775,"C":-0.008,"R":-0.367},{"k":2790,"C":0.02,"R":-0.339},{"k":2805,"C":0.045,"R":-0.314},{"k":2821,"C":0.03,"R":-0.329},{"k":2836,"C":0.005,"R":-0.354},{"k":2851,"C":0.008,"R":-0.351},{"k":2866,"C":-0.003,"R":-0.362},{"k":2882,"C":0.002,"R":-0.357},{"k":2897,"C":0,"R":-0.359},{"k":2912,"C":0.005,"R":-0.354},{"k":2927,"C":0.015,"R":-0.344},{"k":2943,"C":0.027,"R":-0.332},{"k":2958,"C":0.01,"R":-0.349},{"k":2973,"C":0.004,"R":-0.355},{"k":2988,"C":-0.002,"R":-0.361},{"k":3004,"C":0.006,"R":-0.353},{"k":3019,"C":-0.003,"R":-0.362},{"k":3034,"C":0.008,"R":-0.351},{"k":3050,"C":-0.002,"R":-0.361},{"k":3080,"C":0.005,"R":-0.354},{"k":3111,"C":0.003,"R":-0.356},{"k":3141,"C":0.008,"R":-0.351},{"k":3172,"C":0.002,"R":-0.357},{"k":3202,"C":0.006,"R":-0.353},{"k":3233,"C":0.004,"R":-0.355},{"k":3263,"C":0.008,"R":-0.351},{"k":3294,"C":0.002,"R":-0.357},{"k":3324,"C":0.006,"R":-0.353},{"k":3355,"C":0.004,"R":-0.355},{"k":3385,"C":0.007,"R":-0.352},{"k":3416,"C":0.001,"R":-0.358},{"k":3446,"C":0.003,"R":-0.356},{"k":3471,"C":0.009,"R":-0.35},{"k":3492,"C":0.005,"R":-0.354},{"k":3538,"C":0.006,"R":-0.353},
      {"k":3600,"C":0.005,"R":-0.354},{"k":3700,"C":0.0045,"R":-0.3545},{"k":3800,"C":0.0055,"R":-0.3535},{"k":3900,"C":0.005,"R":-0.354},{"k":4000,"C":0.0045,"R":-0.3545},{"k":4100,"C":0.005,"R":-0.354},{"k":4200,"C":0.0055,"R":-0.3535},{"k":4300,"C":0.005,"R":-0.354},{"k":4363,"C":0.008,"R":-0.351},{"k":4400,"C":0.0055,"R":-0.3535},{"k":4500,"C":0.0045,"R":-0.3545},{"k":4600,"C":0.005,"R":-0.354},{"k":4700,"C":0.006,"R":-0.353},{"k":4750,"C":0.0045,"R":-0.3545},{"k":4800,"C":0.005,"R":-0.354},{"k":4880,"C":0.0045,"R":-0.3545}
    ]
  },
  "spacing": 100,
  "bounds": "flush",
  "resolve": {"scale": {"color": "independent"}, "legend": {"color": "independent"}},
  "vconcat": [
    {
      "title": {"text": "ForçaX", "offset": -1},
      "width": 544,
      "height": 430,
      "data": {"name": "fx"},
      "transform": [{"fold": ["S", "F", "R", "C"], "as": ["s", "v"]}, {"filter": "isValid(datum.v)"}],
      "layer": [
        {
          "mark": {"type": "line", "strokeWidth": 1},
          "encoding": {
            "x": {"field": "k", "type": "quantitative", "scale": {"domain": [0, 5000], "nice": false}, "axis": {"values": [0, 500, 1000, 1500, 2000, 2500, 3000, 3500, 4000, 4500, 5000], "format": "d", "title": "k", "labelPadding": 14, "titlePadding": 12}},
            "y": {"field": "v", "type": "quantitative", "scale": {"domain": [-0.1, 0.4], "nice": false, "zero": false}, "axis": {"values": [-0.1, -0.05, 0, 0.05, 0.1, 0.15, 0.2, 0.25, 0.3, 0.35, 0.4], "format": ".2~f", "title": "Força", "labelPadding": 13, "titlePadding": 8}},
            "color": {"field": "s", "type": "nominal", "scale": {"domain": ["S", "F", "R", "C"], "range": ["#0072BD", "#D95319", "#EDB120", "#7E2F8E"]}, "legend": {"orient": "none", "legendX": 30, "legendY": 20.5, "title": null, "labelExpr": "datum.label == 'S' ? 'Força Sensor' : datum.label == 'F' ? 'Força Filtrada' : datum.label == 'R' ? 'Força Rotacionada' : 'Força Compensada'"}}
          }
        },
        {
          "mark": {"type": "point", "opacity": 0},
          "encoding": {
            "x": {"field": "k", "type": "quantitative", "scale": {"domain": [0, 5000], "nice": false}, "axis": {"orient": "top", "values": [0, 500, 1000, 1500, 2000, 2500, 3000, 3500, 4000, 4500, 5000], "labels": false, "title": null}},
            "y": {"field": "v", "type": "quantitative", "scale": {"domain": [-0.1, 0.4], "nice": false, "zero": false}, "axis": {"orient": "right", "values": [-0.1, -0.05, 0, 0.05, 0.1, 0.15, 0.2, 0.25, 0.3, 0.35, 0.4], "labels": false, "title": null}}
          }
        }
      ],
      "resolve": {"axis": {"x": "independent", "y": "independent"}}
    },
    {
      "title": {"text": "ForçaY", "offset": -1},
      "width": 544,
      "height": 430,
      "data": {"name": "fy"},
      "transform": [{"fold": ["S", "F", "R", "C"], "as": ["s", "v"]}, {"filter": "isValid(datum.v)"}],
      "layer": [
        {
          "mark": {"type": "line", "strokeWidth": 1},
          "encoding": {
            "x": {"field": "k", "type": "quantitative", "scale": {"domain": [0, 5000], "nice": false}, "axis": {"values": [0, 500, 1000, 1500, 2000, 2500, 3000, 3500, 4000, 4500, 5000], "format": "d", "title": "k", "labelPadding": 14, "titlePadding": 12}},
            "y": {"field": "v", "type": "quantitative", "scale": {"domain": [-0.05, 0.25], "nice": false, "zero": false}, "axis": {"values": [-0.05, 0, 0.05, 0.1, 0.15, 0.2, 0.25], "format": ".2~f", "title": "Força", "labelPadding": 13, "titlePadding": 8}},
            "color": {"field": "s", "type": "nominal", "scale": {"domain": ["S", "F", "R", "C"], "range": ["#0072BD", "#D95319", "#EDB120", "#7E2F8E"]}, "legend": {"orient": "none", "legendX": 334, "legendY": 13.5, "title": null, "labelExpr": "datum.label == 'S' ? 'Força Sensor' : datum.label == 'F' ? 'Força Filtrada' : datum.label == 'R' ? 'Força Rotacionada' : 'Força Compensada'"}}
          }
        },
        {
          "mark": {"type": "point", "opacity": 0},
          "encoding": {
            "x": {"field": "k", "type": "quantitative", "scale": {"domain": [0, 5000], "nice": false}, "axis": {"orient": "top", "values": [0, 500, 1000, 1500, 2000, 2500, 3000, 3500, 4000, 4500, 5000], "labels": false, "title": null}},
            "y": {"field": "v", "type": "quantitative", "scale": {"domain": [-0.05, 0.25], "nice": false, "zero": false}, "axis": {"orient": "right", "values": [-0.05, 0, 0.05, 0.1, 0.15, 0.2, 0.25], "labels": false, "title": null}}
          }
        }
      ],
      "resolve": {"axis": {"x": "independent", "y": "independent"}}
    },
    {
      "title": {"text": "ForçaZ", "offset": -1},
      "width": 544,
      "height": 430,
      "data": {"name": "fz"},
      "transform": [{"fold": ["S", "F", "R", "C"], "as": ["s", "v"]}, {"filter": "isValid(datum.v)"}],
      "layer": [
        {
          "mark": {"type": "line", "strokeWidth": 1},
          "encoding": {
            "x": {"field": "k", "type": "quantitative", "scale": {"domain": [0, 5000], "nice": false}, "axis": {"values": [0, 500, 1000, 1500, 2000, 2500, 3000, 3500, 4000, 4500, 5000], "format": "d", "title": "k", "labelPadding": 14, "titlePadding": 12}},
            "y": {"field": "v", "type": "quantitative", "scale": {"domain": [-0.4, 0.3], "nice": false, "zero": false}, "axis": {"values": [-0.4, -0.3, -0.2, -0.1, 0, 0.1, 0.2, 0.3], "format": ".1~f", "title": "Força", "labelPadding": 13, "titlePadding": 8}},
            "color": {"field": "s", "type": "nominal", "scale": {"domain": ["S", "F", "R", "C"], "range": ["#0072BD", "#D95319", "#EDB120", "#7E2F8E"]}, "legend": {"orient": "none", "legendX": 334, "legendY": 15, "title": null, "labelExpr": "datum.label == 'S' ? 'Força Sensor' : datum.label == 'F' ? 'Força Filtrada' : datum.label == 'R' ? 'Força Rotacionada' : 'Força Compensada'"}}
          }
        },
        {
          "mark": {"type": "point", "opacity": 0},
          "encoding": {
            "x": {"field": "k", "type": "quantitative", "scale": {"domain": [0, 5000], "nice": false}, "axis": {"orient": "top", "values": [0, 500, 1000, 1500, 2000, 2500, 3000, 3500, 4000, 4500, 5000], "labels": false, "title": null}},
            "y": {"field": "v", "type": "quantitative", "scale": {"domain": [-0.4, 0.3], "nice": false, "zero": false}, "axis": {"orient": "right", "values": [-0.4, -0.3, -0.2, -0.1, 0, 0.1, 0.2, 0.3], "labels": false, "title": null}}
          }
        }
      ],
      "resolve": {"axis": {"x": "independent", "y": "independent"}}
    }
  ]
}
